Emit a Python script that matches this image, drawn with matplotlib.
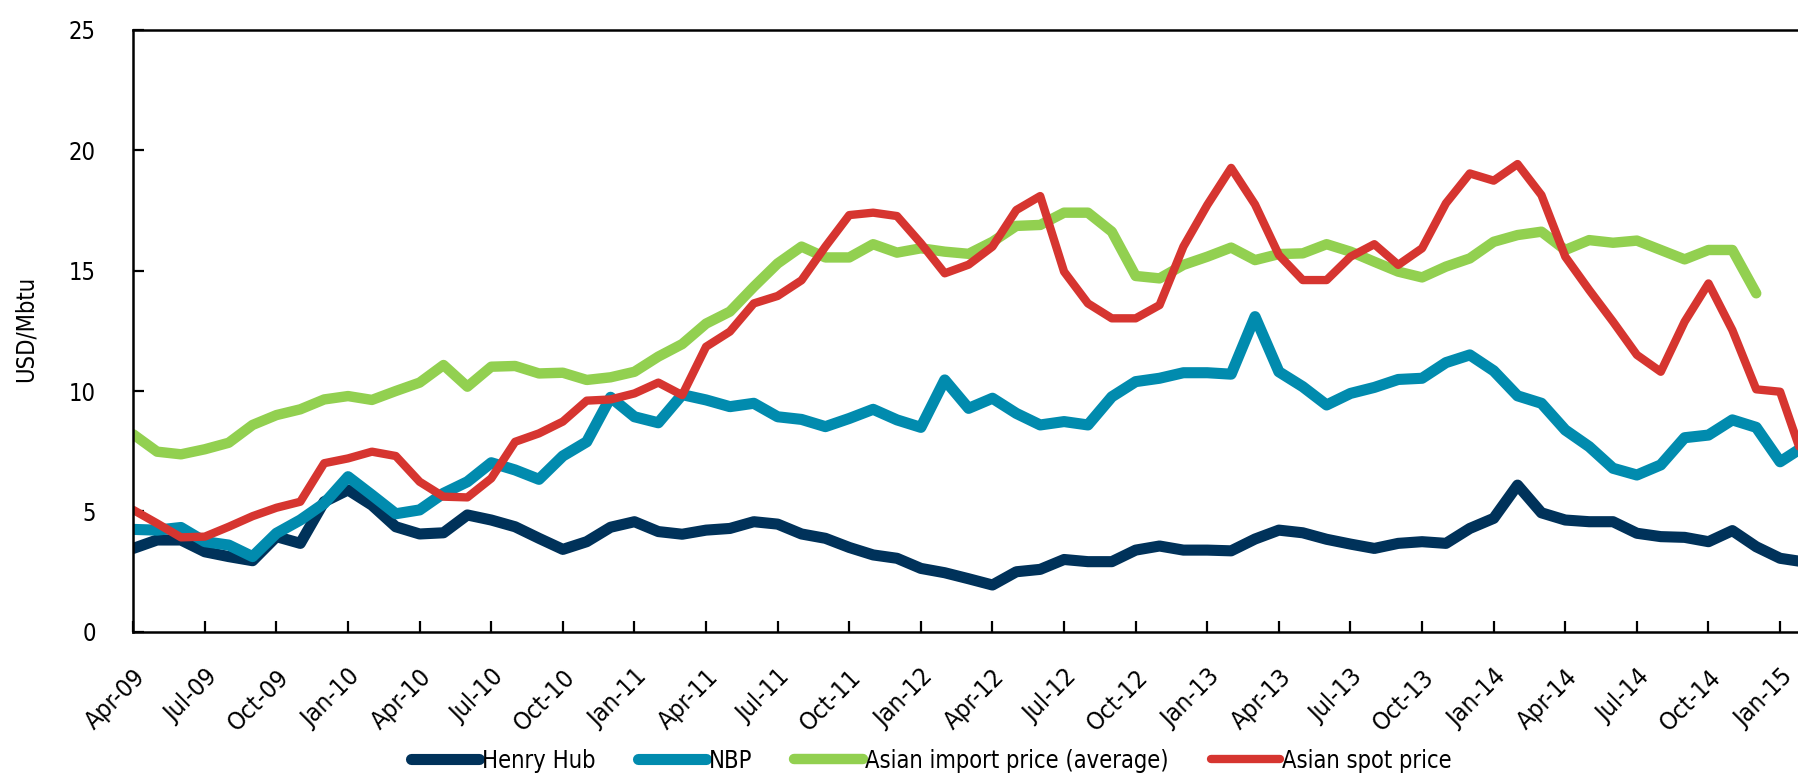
"""Gas price benchmarks, Apr-09 to Feb-15 (USD/Mbtu)."""

import numpy as np
import matplotlib
matplotlib.use("Agg")
import matplotlib.pyplot as plt

plt.rcParams["font.family"] = ["DejaVu Sans"]
plt.rcParams["font.stretch"] = "condensed"

# monthly values starting Apr-09
henry_hub = [
    3.46, 3.81, 3.81, 3.32, 3.12, 2.95, 3.95, 3.67, 5.40, 5.89, 5.26, 4.36,
    4.06, 4.11, 4.85, 4.64, 4.36, 3.88, 3.42, 3.74, 4.34, 4.57, 4.16, 4.05,
    4.22, 4.29, 4.57, 4.47, 4.06, 3.88, 3.50, 3.19, 3.05, 2.63, 2.45, 2.20,
    1.94, 2.49, 2.59, 3.00, 2.91, 2.91, 3.39, 3.56, 3.39, 3.39, 3.36, 3.85,
    4.22, 4.11, 3.84, 3.64, 3.46, 3.67, 3.74, 3.67, 4.29, 4.71, 6.09, 4.94,
    4.64, 4.57, 4.57, 4.09, 3.95, 3.92, 3.74, 4.20, 3.53, 3.05, 2.90,
]
nbp = [
    4.25, 4.22, 4.33, 3.74, 3.60, 3.12, 4.09, 4.64, 5.33, 6.44, 5.68, 4.90,
    5.06, 5.75, 6.23, 7.02, 6.72, 6.33, 7.30, 7.89, 9.74, 8.93, 8.68, 9.85,
    9.63, 9.35, 9.49, 8.93, 8.82, 8.52, 8.86, 9.24, 8.80, 8.49, 10.46, 9.28,
    9.70, 9.07, 8.59, 8.73, 8.59, 9.76, 10.39, 10.53, 10.76, 10.76, 10.70, 13.09,
    10.80, 10.18, 9.42, 9.90, 10.15, 10.48, 10.53, 11.18, 11.50, 10.84, 9.80, 9.49,
    8.38, 7.69, 6.79, 6.51, 6.93, 8.06, 8.17, 8.80, 8.49, 7.06, 7.70,
]
asian_import = [
    8.20, 7.48, 7.37, 7.58, 7.85, 8.59, 9.00, 9.24, 9.65, 9.79, 9.63, 10.00,
    10.35, 11.08, 10.18, 11.01, 11.04, 10.73, 10.76, 10.46, 10.57, 10.80, 11.43, 11.95,
    12.80, 13.30, 14.33, 15.30, 16.00, 15.55, 15.55, 16.10, 15.75, 15.93, 15.79, 15.70,
    16.20, 16.86, 16.90, 17.41, 17.41, 16.62, 14.78, 14.68, 15.24, 15.58, 15.96, 15.44,
    15.69, 15.72, 16.10, 15.79, 15.37, 14.96, 14.72, 15.17, 15.51, 16.20, 16.48, 16.62,
    15.86, 16.27, 16.16, 16.25, 15.86, 15.47, 15.86, 15.86, 14.06,
]
asian_spot = [
    5.06, 4.50, 3.92, 3.95, 4.36, 4.80, 5.15, 5.40, 7.00, 7.20, 7.48, 7.30,
    6.23, 5.61, 5.58, 6.37, 7.89, 8.24, 8.73, 9.60, 9.65, 9.90, 10.35, 9.83,
    11.84, 12.47, 13.64, 13.95, 14.60, 16.00, 17.31, 17.41, 17.27, 16.14, 14.89, 15.25,
    16.00, 17.52, 18.10, 14.96, 13.64, 13.02, 13.02, 13.57, 16.00, 17.73, 19.27, 17.75,
    15.65, 14.61, 14.61, 15.58, 16.10, 15.24, 15.93, 17.80, 19.04, 18.74, 19.43, 18.14,
    15.58, 14.20, 12.88, 11.50, 10.80, 12.88, 14.47, 12.53, 10.07, 9.97, 7.10,
]

tick_labels = [
    "Apr-09", "Jul-09", "Oct-09", "Jan-10", "Apr-10", "Jul-10", "Oct-10", "Jan-11",
    "Apr-11", "Jul-11", "Oct-11", "Jan-12", "Apr-12", "Jul-12", "Oct-12", "Jan-13",
    "Apr-13", "Jul-13", "Oct-13", "Jan-14", "Apr-14", "Jul-14", "Oct-14", "Jan-15",
]

series = [
    ("Henry Hub", henry_hub, "#00325A", 8.0),
    ("NBP", nbp, "#018BAE", 8.0),
    ("Asian import price (average)", asian_import, "#92D050", 7.5),
    ("Asian spot price", asian_spot, "#D63530", 6.0),
]

fig = plt.figure(figsize=(17.98, 7.77), dpi=100)
ax = fig.add_axes([0.0741, 0.187, 0.9259, 0.7744])

for name, vals, col, lw in series:
    ax.plot(np.arange(len(vals)), vals, color=col, lw=lw, label=name,
            solid_capstyle="round", solid_joinstyle="round")

ax.set_xlim(0, 69.75)
ax.set_ylim(0, 25)
ax.set_yticks(np.arange(0, 26, 5))
ax.set_xticks(np.arange(0, 3 * len(tick_labels), 3))
ax.set_xticklabels(tick_labels, rotation=45, ha="right", va="top",
                   rotation_mode="anchor", fontsize=18)
for lab in ax.get_yticklabels():
    lab.set_fontsize(17)

ax.tick_params(axis="both", direction="in", length=8, width=1.6, colors="black")
ax.tick_params(axis="y", pad=27)
ax.tick_params(axis="x", pad=24)

for side in ("left", "bottom", "top"):
    ax.spines[side].set_linewidth(1.8)
ax.spines["right"].set_visible(False)

fig.text(0.014, 0.577, "USD/Mbtu", rotation=90,
         ha="center", va="center", fontsize=17)

fig.legend(loc="center", bbox_to_anchor=(0.518, 0.021), ncol=4, frameon=False,
           fontsize=17, handlelength=2.9, handletextpad=0.1, columnspacing=1.8)

fig.savefig("out.png", dpi=100)
